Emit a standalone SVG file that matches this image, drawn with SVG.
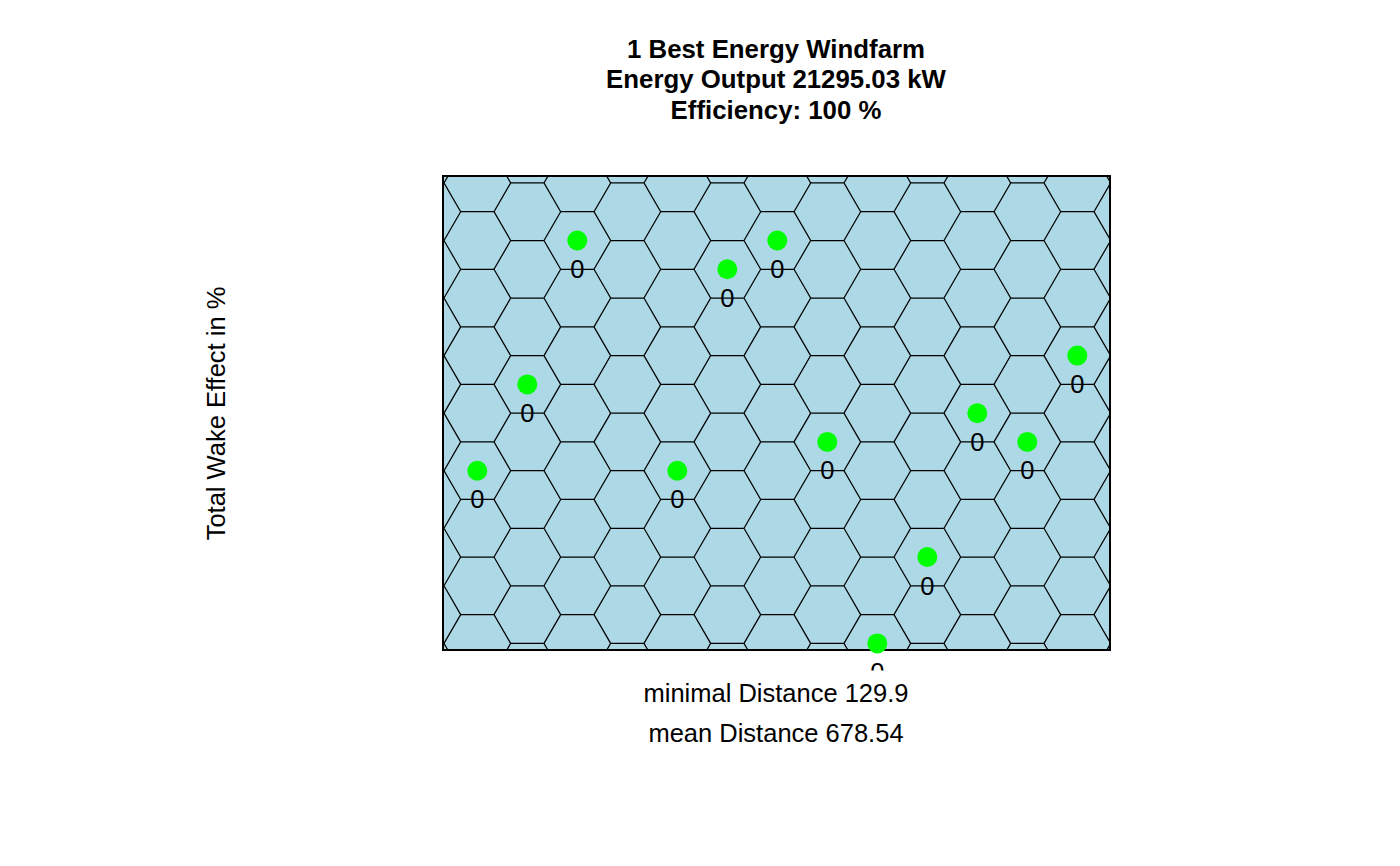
<svg xmlns="http://www.w3.org/2000/svg" xmlns:xlink="http://www.w3.org/1999/xlink" width="1400" height="866" viewBox="0 0 1400 866">
<style>
text{font-family:"Liberation Sans",Arial,Helvetica,sans-serif;fill:#000}
.title{font-size:25.8px;font-weight:bold;text-anchor:middle}
.lab{font-size:25.5px;text-anchor:middle}
.hex{fill:none;stroke:#000;stroke-width:1.25}
.turb{fill:#00FF00;stroke:none}
.frame{fill:none;stroke:#000;stroke-width:2}
</style>
<defs>
<clipPath id="plotClip"><rect x="443" y="176" width="667" height="474"/></clipPath>
<clipPath id="figClip"><rect x="0" y="0" width="1400" height="670.5"/></clipPath>
<path id="strip" class="hex" d="M-83.333,0H-50L-33.333,28.775L-50,57.55M-33.333,28.775H0L16.667,57.55M16.667,0L0,28.775
M16.667,0H50L66.667,28.775L50,57.55M66.667,28.775H100L116.667,57.55M116.667,0L100,28.775
M116.667,0H150L166.667,28.775L150,57.55M166.667,28.775H200L216.667,57.55M216.667,0L200,28.775
M216.667,0H250L266.667,28.775L250,57.55M266.667,28.775H300L316.667,57.55M316.667,0L300,28.775
M316.667,0H350L366.667,28.775L350,57.55M366.667,28.775H400L416.667,57.55M416.667,0L400,28.775
M416.667,0H450L466.667,28.775L450,57.55M466.667,28.775H500L516.667,57.55M516.667,0L500,28.775
M516.667,0H550L566.667,28.775L550,57.55M566.667,28.775H600L616.667,57.55M616.667,0L600,28.775
M616.667,0H650L666.667,28.775L650,57.55M666.667,28.775H700L716.667,57.55M716.667,0L700,28.775"/>
</defs>
<rect x="0" y="0" width="1400" height="866" fill="#FFFFFF"/>
<g id="titles">
<text class="title" x="776" y="58">1 Best Energy Windfarm</text>
<text class="title" x="776" y="88">Energy Output 21295.03 kW</text>
<text class="title" x="776" y="119">Efficiency: 100 %</text>
</g>
<g id="plot">
<rect x="443" y="176" width="667" height="474" fill="#ADD8E6"/>
<g id="hexgrid" clip-path="url(#plotClip)">
<use xlink:href="#strip" transform="translate(444,154.175)"/>
<use xlink:href="#strip" transform="translate(444,211.725)"/>
<use xlink:href="#strip" transform="translate(444,269.275)"/>
<use xlink:href="#strip" transform="translate(444,326.825)"/>
<use xlink:href="#strip" transform="translate(444,384.375)"/>
<use xlink:href="#strip" transform="translate(444,441.925)"/>
<use xlink:href="#strip" transform="translate(444,499.475)"/>
<use xlink:href="#strip" transform="translate(444,557.025)"/>
<use xlink:href="#strip" transform="translate(444,614.575)"/>
</g>
<rect class="frame" x="443" y="176" width="667" height="474"/>
</g>
<g id="connectors"></g>
<g id="turbines">
<g id="t1"><circle class="turb" cx="577.3" cy="240.5" r="10"/><text class="lab" x="577.3" y="278">0</text></g>
<g id="t2"><circle class="turb" cx="527.3" cy="384.4" r="10"/><text class="lab" x="527.3" y="421.9">0</text></g>
<g id="t3"><circle class="turb" cx="477.3" cy="470.7" r="10"/><text class="lab" x="477.3" y="508.2">0</text></g>
<g id="t4"><circle class="turb" cx="677.3" cy="470.7" r="10"/><text class="lab" x="677.3" y="508.2">0</text></g>
<g id="t5"><circle class="turb" cx="727.3" cy="269.3" r="10"/><text class="lab" x="727.3" y="306.8">0</text></g>
<g id="t6"><circle class="turb" cx="777.3" cy="240.5" r="10"/><text class="lab" x="777.3" y="278">0</text></g>
<g id="t7"><circle class="turb" cx="827.3" cy="441.9" r="10"/><text class="lab" x="827.3" y="479.4">0</text></g>
<g id="t8"><circle class="turb" cx="877.3" cy="643.4" r="10"/><text class="lab" x="877.3" y="680.9" clip-path="url(#figClip)">0</text></g>
<g id="t9"><circle class="turb" cx="927.3" cy="557" r="10"/><text class="lab" x="927.3" y="594.5">0</text></g>
<g id="t10"><circle class="turb" cx="977.3" cy="413.2" r="10"/><text class="lab" x="977.3" y="450.7">0</text></g>
<g id="t11"><circle class="turb" cx="1027.3" cy="441.9" r="10"/><text class="lab" x="1027.3" y="479.4">0</text></g>
<g id="t12"><circle class="turb" cx="1077.3" cy="355.6" r="10"/><text class="lab" x="1077.3" y="393.1">0</text></g>
</g>
<g id="axislabels">
<text class="lab" x="776" y="701.5">minimal Distance 129.9</text>
<text class="lab" x="776" y="741.5">mean Distance 678.54</text>
<text class="lab" transform="translate(225,413.5) rotate(-90)" x="0" y="0">Total Wake Effect in %</text>
</g>
</svg>
